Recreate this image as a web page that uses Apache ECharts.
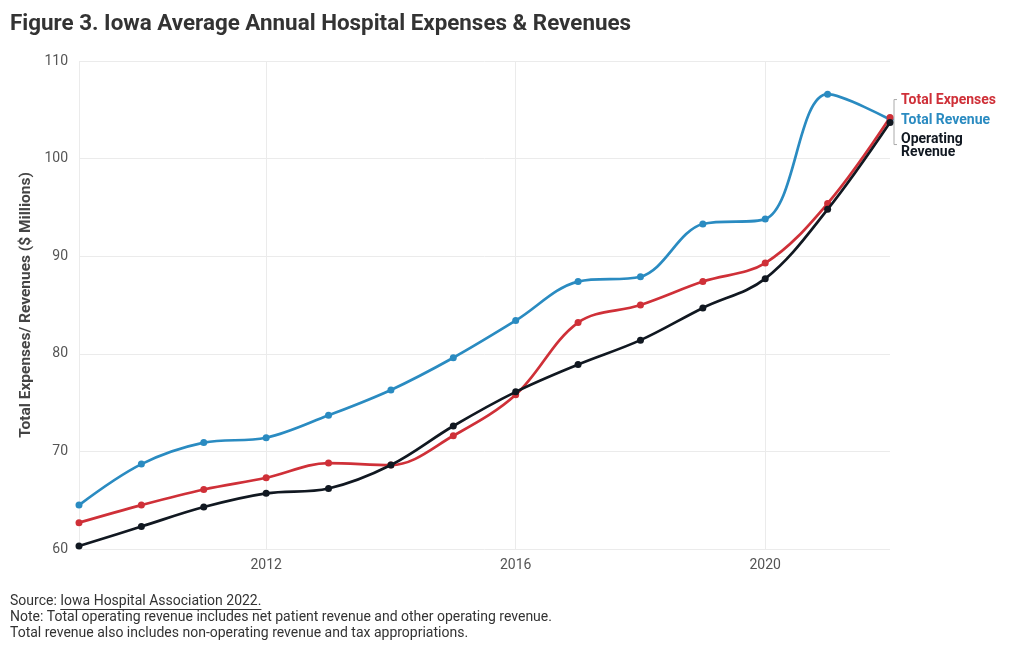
<!DOCTYPE html>
<html>
<head>
<meta charset="utf-8">
<script src="https://cdn.jsdelivr.net/npm/echarts@6/dist/echarts.min.js"></script>
<style>
  html, body { margin: 0; padding: 0; background: #fff; }
  #chart { width: 1020px; height: 650px; }
</style>
</head>
<body>
<div id="chart"></div>
<script>
const years = ['2009','2010','2011','2012','2013','2014','2015','2016','2017','2018','2019','2020','2021','2022'];
const totalExpenses = [62.7, 64.5, 66.1, 67.3, 68.8, 68.6, 71.6, 75.8, 83.2, 85.0, 87.4, 89.3, 95.4, 104.2];
const totalRevenue = [64.5, 68.7, 70.9, 71.4, 73.7, 76.3, 79.6, 83.4, 87.4, 87.9, 93.3, 93.8, 106.6, 104.0];
const operatingRevenue = [60.3, 62.3, 64.3, 65.7, 66.2, 68.6, 72.6, 76.1, 78.9, 81.4, 84.7, 87.7, 94.8, 103.7];
const yTicks = { min: 60, max: 110, step: 10 };
const seriesNames = ['Total Expenses', 'Total Revenue', 'Operating\nRevenue'];
const colors = ['#cf3038', '#2a8bc1', '#111821'];
const footLines = [
  'Source: Iowa Hospital Association 2022.',
  'Note: Total operating revenue includes net patient revenue and other operating revenue.',
  'Total revenue also includes non-operating revenue and tax appropriations.'
];

const FONT = 'Roboto';
const FOOT_FONT = '14px Roboto';
const chart = echarts.init(document.getElementById('chart'), null, { renderer: 'canvas' });

function mk(name, data, color, offY, z) {
  return {
    name: name, type: 'line', data: data, smooth: 0.35, z: z,
    symbol: 'circle', symbolSize: 7,
    lineStyle: { color: color, width: 2.7 },
    itemStyle: { color: color },
    emphasis: { disabled: true },
    endLabel: {
      show: true, formatter: name, color: color, fontFamily: FONT, fontWeight: 'bold',
      fontSize: 14, lineHeight: 13, offset: [3, offY], align: 'left'
    }
  };
}

chart.setOption({
  animation: false,
  title: {
    text: 'Figure 3. Iowa Average Annual Hospital Expenses & Revenues',
    left: 5, top: 8,
    textStyle: { fontFamily: FONT, fontWeight: 'bold', fontSize: 22.4, color: '#333' }
  },
  grid: { left: 79, right: 130, top: 61, bottom: 101, containLabel: false },
  xAxis: {
    type: 'category', data: years, boundaryGap: false,
    axisLine: { show: false }, axisTick: { show: false },
    axisLabel: {
      interval: (i, v) => (+v) % 4 === 0,
      color: '#555', fontFamily: FONT, fontSize: 14, margin: 9
    },
    splitLine: { show: true, interval: (i, v) => (+v) % 4 === 0 || i === 0, lineStyle: { color: '#ebebeb', width: 1 } }
  },
  yAxis: {
    type: 'value', min: yTicks.min, max: yTicks.max, interval: yTicks.step,
    axisLine: { show: false }, axisTick: { show: false },
    axisLabel: { color: '#555', fontFamily: FONT, fontSize: 14, margin: 11 },
    splitLine: { lineStyle: { color: '#ebebeb', width: 1 } },
    name: 'Total Expenses/ Revenues ($ Millions)', nameLocation: 'middle', nameGap: 45,
    nameMoveOverlap: false,
    nameTextStyle: { fontFamily: FONT, fontWeight: 'bold', fontSize: 15.5, color: '#444' }
  },
  series: [
    mk(seriesNames[0], totalExpenses, colors[0], -17, 3),
    mk(seriesNames[1], totalRevenue, colors[1], 1, 2),
    mk(seriesNames[2], operatingRevenue, colors[2], 24, 4)
  ]
});

(function () {
  const ctx = document.createElement('canvas').getContext('2d');
  ctx.font = FOOT_FONT;
  const x0 = 10 + ctx.measureText('Source: ').width;
  const x1 = 10 + ctx.measureText(footLines[0]).width;
  const last = years.length - 1;
  const pR = chart.convertToPixel({ gridIndex: 0 }, [last, totalRevenue[last]]);
  const px = pR[0] + 4;
  const yTop = pR[1] - 20, yBot = pR[1] + 25;
  const texts = footLines.map((t, i) => ({
    type: 'text', left: 10, top: 594 + i * 16, style: { text: t, font: FOOT_FONT, fill: '#333' }
  }));
  chart.setOption({
    graphic: texts.concat([
      { type: 'line', shape: { x1: x0, y1: 609.5, x2: x1, y2: 609.5 }, style: { stroke: '#333', lineWidth: 1 } },
      { type: 'polyline', shape: { points: [[px + 3, yTop], [px, yTop], [px, yBot], [px + 3, yBot]] }, style: { stroke: '#aaa', lineWidth: 1, fill: null } },
      { type: 'line', shape: { x1: pR[0] + 1, y1: pR[1], x2: px, y2: pR[1] }, style: { stroke: '#aaa', lineWidth: 1 } }
    ])
  });
})();
</script>
</body>
</html>
